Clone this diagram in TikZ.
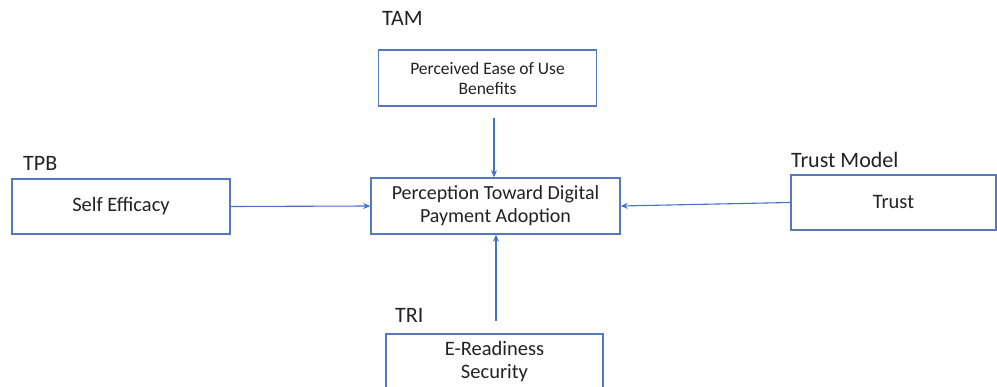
\documentclass[tikz,border=0pt]{standalone}
\usepackage{fontspec}
\setmainfont{Carlito}
\usetikzlibrary{arrows.meta}
\definecolor{boxblue}{HTML}{5578BE}
\definecolor{arrblue}{HTML}{4472C4}
\definecolor{txt}{HTML}{222222}
\tikzset{
  box/.style={draw=boxblue, line width=1.4pt, fill=white, rectangle, align=center, text=txt, inner sep=0pt},
  conn/.style={draw=arrblue, line width=1.1pt, -{Stealth[length=7pt,width=6pt]}},
  lab/.style={anchor=base west, text=txt, font=\fontsize{22}{25}\selectfont, inner sep=0pt},
}
\begin{document}
\begin{tikzpicture}[x=1pt,y=-1pt]
\useasboundingbox (0,0) rectangle (997,387);
\fill[white] (0,0) rectangle (997,387);
% boxes
\node[box, minimum width=218pt, minimum height=56pt, font=\fontsize{17.5}{20}\selectfont] (top) at (487.5,78) {Perceived Ease of Use\\Benefits};
\node[box, minimum width=218pt, minimum height=55pt, font=\fontsize{20.5}{23}\selectfont] (self) at (121,206.5) {Self Efficacy};
\node[box, minimum width=249pt, minimum height=56pt, font=\fontsize{20}{23}\selectfont] (center) at (495.5,206) {Perception Toward Digital\\Payment Adoption};
\node[box, minimum width=205pt, minimum height=55pt, font=\fontsize{20.5}{23}\selectfont] (trust) at (893.5,202.5) {Trust};
\node[box, minimum width=217pt, minimum height=56pt, font=\fontsize{20.5}{23}\selectfont] (bottom) at (494.5,362) {E-Readiness\\Security};
% labels
\node[lab] (tam) at (382,26) {TAM};
\node[lab] (tpb) at (23,171) {TPB};
\node[lab] (tm) at (791,168) {Trust Model};
\node[lab] (tri) at (395,323) {TRI};
% connectors
\coordinate (topstart) at (494,118);
\coordinate (botstart) at (496,321);
\draw[conn] (topstart) -- (topstart |- center.north);
\draw[conn] (self.east) -- (center.west);
\draw[conn] (trust.west) -- (center.east);
\draw[conn] (botstart) -- (botstart |- center.south);
\end{tikzpicture}
\end{document}
